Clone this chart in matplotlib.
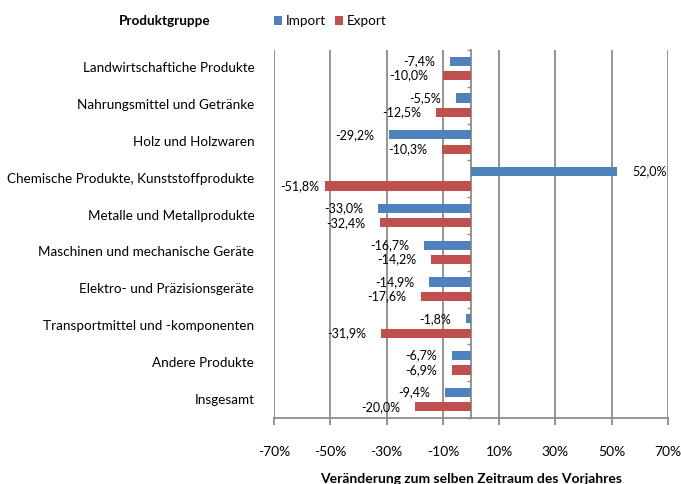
import numpy as np
import matplotlib
matplotlib.use("Agg")
import matplotlib.pyplot as plt

plt.rcParams["font.family"] = ["Lato", "DejaVu Sans"]

kategorien = [
    "Landwirtschaftiche Produkte",
    "Nahrungsmittel und Getränke",
    "Holz und Holzwaren",
    "Chemische Produkte, Kunststoffprodukte",
    "Metalle und Metallprodukte",
    "Maschinen und mechanische Geräte",
    "Elektro- und Präzisionsgeräte",
    "Transportmittel und -komponenten",
    "Andere Produkte",
    "Insgesamt",
]
importe = [-7.4, -5.5, -29.2, 52.0, -33.0, -16.7, -14.9, -1.8, -6.7, -9.4]
exporte = [-10.0, -12.5, -10.3, -51.8, -32.4, -14.2, -17.6, -31.9, -6.9, -20.0]
xticks = [-70, -50, -30, -10, 10, 30, 50, 70]

blau = "#4F81BD"
rot = "#C0504D"
grau = "#8C8C8C"

fig = plt.figure(figsize=(6.81, 4.84), dpi=100)
ax = fig.add_axes([274 / 681, 66 / 484, 394 / 681, 368 / 484])

y = np.arange(len(kategorien))
h = 0.25
off = 0.195
ax.barh(y - off, importe, height=h, color=blau, label="Import", zorder=3)
ax.barh(y + off, exporte, height=h, color=rot, label="Export", zorder=3)

ax.set_xlim(-70, 70)
ax.set_ylim(len(kategorien) - 0.5, -0.5)
ax.set_xticks(xticks)
ax.set_xticklabels([f"{t}%" for t in xticks], fontsize=10)
ax.grid(axis="x", color=grau, linewidth=1.3, zorder=0)
ax.tick_params(axis="x", length=5, color=grau, width=1.3, pad=15)

for s in ["top", "right"]:
    ax.spines[s].set_visible(False)
ax.spines["bottom"].set_color(grau)
ax.spines["bottom"].set_linewidth(1.3)
ax.spines["left"].set_position(("data", 0))
ax.spines["left"].set_color(grau)
ax.spines["left"].set_linewidth(1.3)
ax.set_yticks([])
ax.set_yticks(np.arange(len(kategorien) + 1) - 0.5, minor=True)
ax.tick_params(axis="y", which="minor", length=3, color=grau, width=1.0, direction="out")

for yi, name in zip(y, kategorien):
    ax.text(-0.05, yi, name, transform=ax.get_yaxis_transform(), ha="right",
            va="center", fontsize=9.7)

def fmt(v):
    return f"{v:.1f}%".replace(".", ",")

for werte, dy in [(importe, -off), (exporte, off)]:
    for yi, v in zip(y, werte):
        if v >= 0:
            ax.text(v + 5.3, yi + dy, fmt(v), ha="left", va="center", fontsize=9)
        else:
            ax.text(max(v - 5.3, -54.0) if v < -45 else v - 5.3, yi + dy, fmt(v),
                    ha="right", va="center", fontsize=9)

ax.set_xlabel("Veränderung zum selben Zeitraum des Vorjahres", fontsize=10,
              fontweight="bold", labelpad=11)

fig.text(165 / 681, 1 - 21 / 484, "Produktgruppe", ha="center", va="center",
         fontsize=9.7, fontweight="bold")
fig.legend(loc="center", bbox_to_anchor=(330 / 681, 1 - 21 / 484), ncol=2,
           frameon=False, fontsize=9.7, handlelength=0.6, handleheight=0.6,
           handletextpad=0.25, columnspacing=0.7, borderpad=0.2)

fig.savefig("out.png", dpi=100)
